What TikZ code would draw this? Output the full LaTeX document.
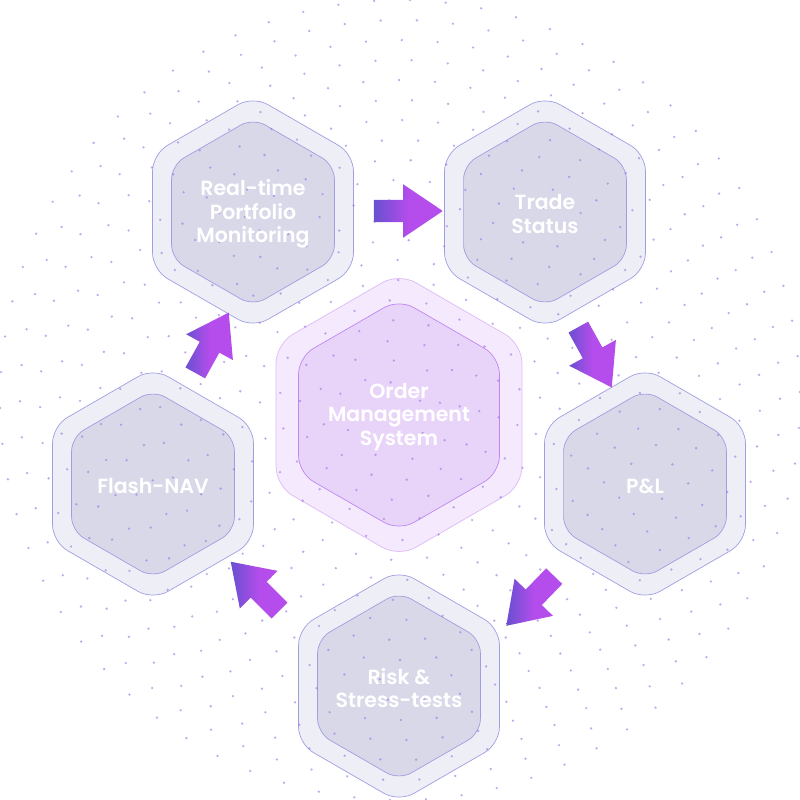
\documentclass[tikz,border=0pt]{standalone}
\usepackage{fontspec}
\setmainfont{Poppins}[BoldFont={Poppins SemiBold}]
\usepackage{tikz}
\usetikzlibrary{shapes.geometric,shapes.arrows}
\usetikzlibrary{positioning}
\definecolor{hexouter}{RGB}{238,238,246}
\definecolor{hexinner}{RGB}{216,216,233}
\definecolor{hexline}{RGB}{160,158,226}
\definecolor{omsouter}{RGB}{245,233,253}
\definecolor{omsinner}{RGB}{233,212,249}
\definecolor{omsline}{RGB}{221,186,246}
\definecolor{omsinline}{RGB}{190,135,242}
\definecolor{arrowblue}{RGB}{104,80,208}
\definecolor{arrowpurple}{RGB}{180,77,235}
\definecolor{dotcol}{RGB}{150,115,225}
\tikzstyle{hexbase} = [regular polygon, regular polygon sides=6, shape border rotate=30,
    inner sep=0pt, line width=0.7pt]
\tikzstyle{outerhex} = [hexbase, minimum size=232pt, rounded corners=17pt, draw=hexline, fill=hexouter]
\tikzstyle{innerhex} = [hexbase, minimum size=188pt, rounded corners=14pt, draw=hexline, fill=hexinner]
\tikzstyle{omsout} = [hexbase, minimum size=284pt, rounded corners=19pt, draw=omsline, fill=omsouter]
\tikzstyle{omsin} = [hexbase, minimum size=232pt, rounded corners=17pt, draw=omsinline, fill=omsinner]
\tikzstyle{hexlabel} = [text=white, align=center, yshift=-2pt, font=\bfseries\fontsize{20.5}{23.5}\selectfont]
\tikzstyle{blockarrow} = [single arrow, single arrow head extend=15.5pt, single arrow tip angle=68,
    minimum height=69pt, inner sep=11pt, draw=none,
    left color=arrowblue, right color=arrowpurple, middle color=arrowpurple]
\tikzstyle{dot} = [fill=dotcol, opacity=0.6]

\begin{document}
\begin{tikzpicture}[x=1pt, y=-1pt]
\useasboundingbox (0,0) rectangle (800,800);

\node (rtpm) [outerhex] at (253,212) {};
\node (rtpmin) [innerhex] at (rtpm.center) {};
\node (trade) [outerhex] at (545,212) {};
\node (tradein) [innerhex] at (trade.center) {};
\node (flash) [outerhex] at (153,484) {};
\node (flashin) [innerhex] at (flash.center) {};
\node (pnl) [outerhex] at (645,484) {};
\node (pnlin) [innerhex] at (pnl.center) {};
\node (risk) [outerhex] at (399,686) {};
\node (riskin) [innerhex] at (risk.center) {};
\node (oms) [omsout] at (399,415) {};
\node (omsin) [omsin] at (oms.center) {};

\begin{scope}[shift={(400,400)}]
\foreach \r in {20,40,...,400} {
    \pgfmathtruncatemacro\n{round(2*pi*\r/36)}
    \foreach \k in {1,...,\n} {
        \fill[dot] (\k/\n*360+\r/10:\r) circle (1.3pt);
    }
}
\end{scope}

\node (rtpmtxt) [hexlabel] at (rtpm.center) {Real-time\\Portfolio\\Monitoring};
\node (tradetxt) [hexlabel] at (trade.center) {Trade\\Status};
\node (flashtxt) [hexlabel] at (flash.center) {Flash-NAV};
\node (pnltxt) [hexlabel] at (pnl.center) {P\&L};
\node (risktxt) [hexlabel] at (risk.center) {Risk \&\\Stress-tests};
\node (omstxt) [hexlabel] at (oms.center) {Order\\Management\\System};

\node (a1) [blockarrow] at (400,211) {};
\node (a2) [blockarrow, rotate=-61] at (591,350) {};
\node (a3) [blockarrow, rotate=-134] at (536,595) {};
\node (a4) [blockarrow, rotate=135] at (261,592) {};
\node (a5) [blockarrow, rotate=61] at (208,350) {};
\end{tikzpicture}
\end{document}
